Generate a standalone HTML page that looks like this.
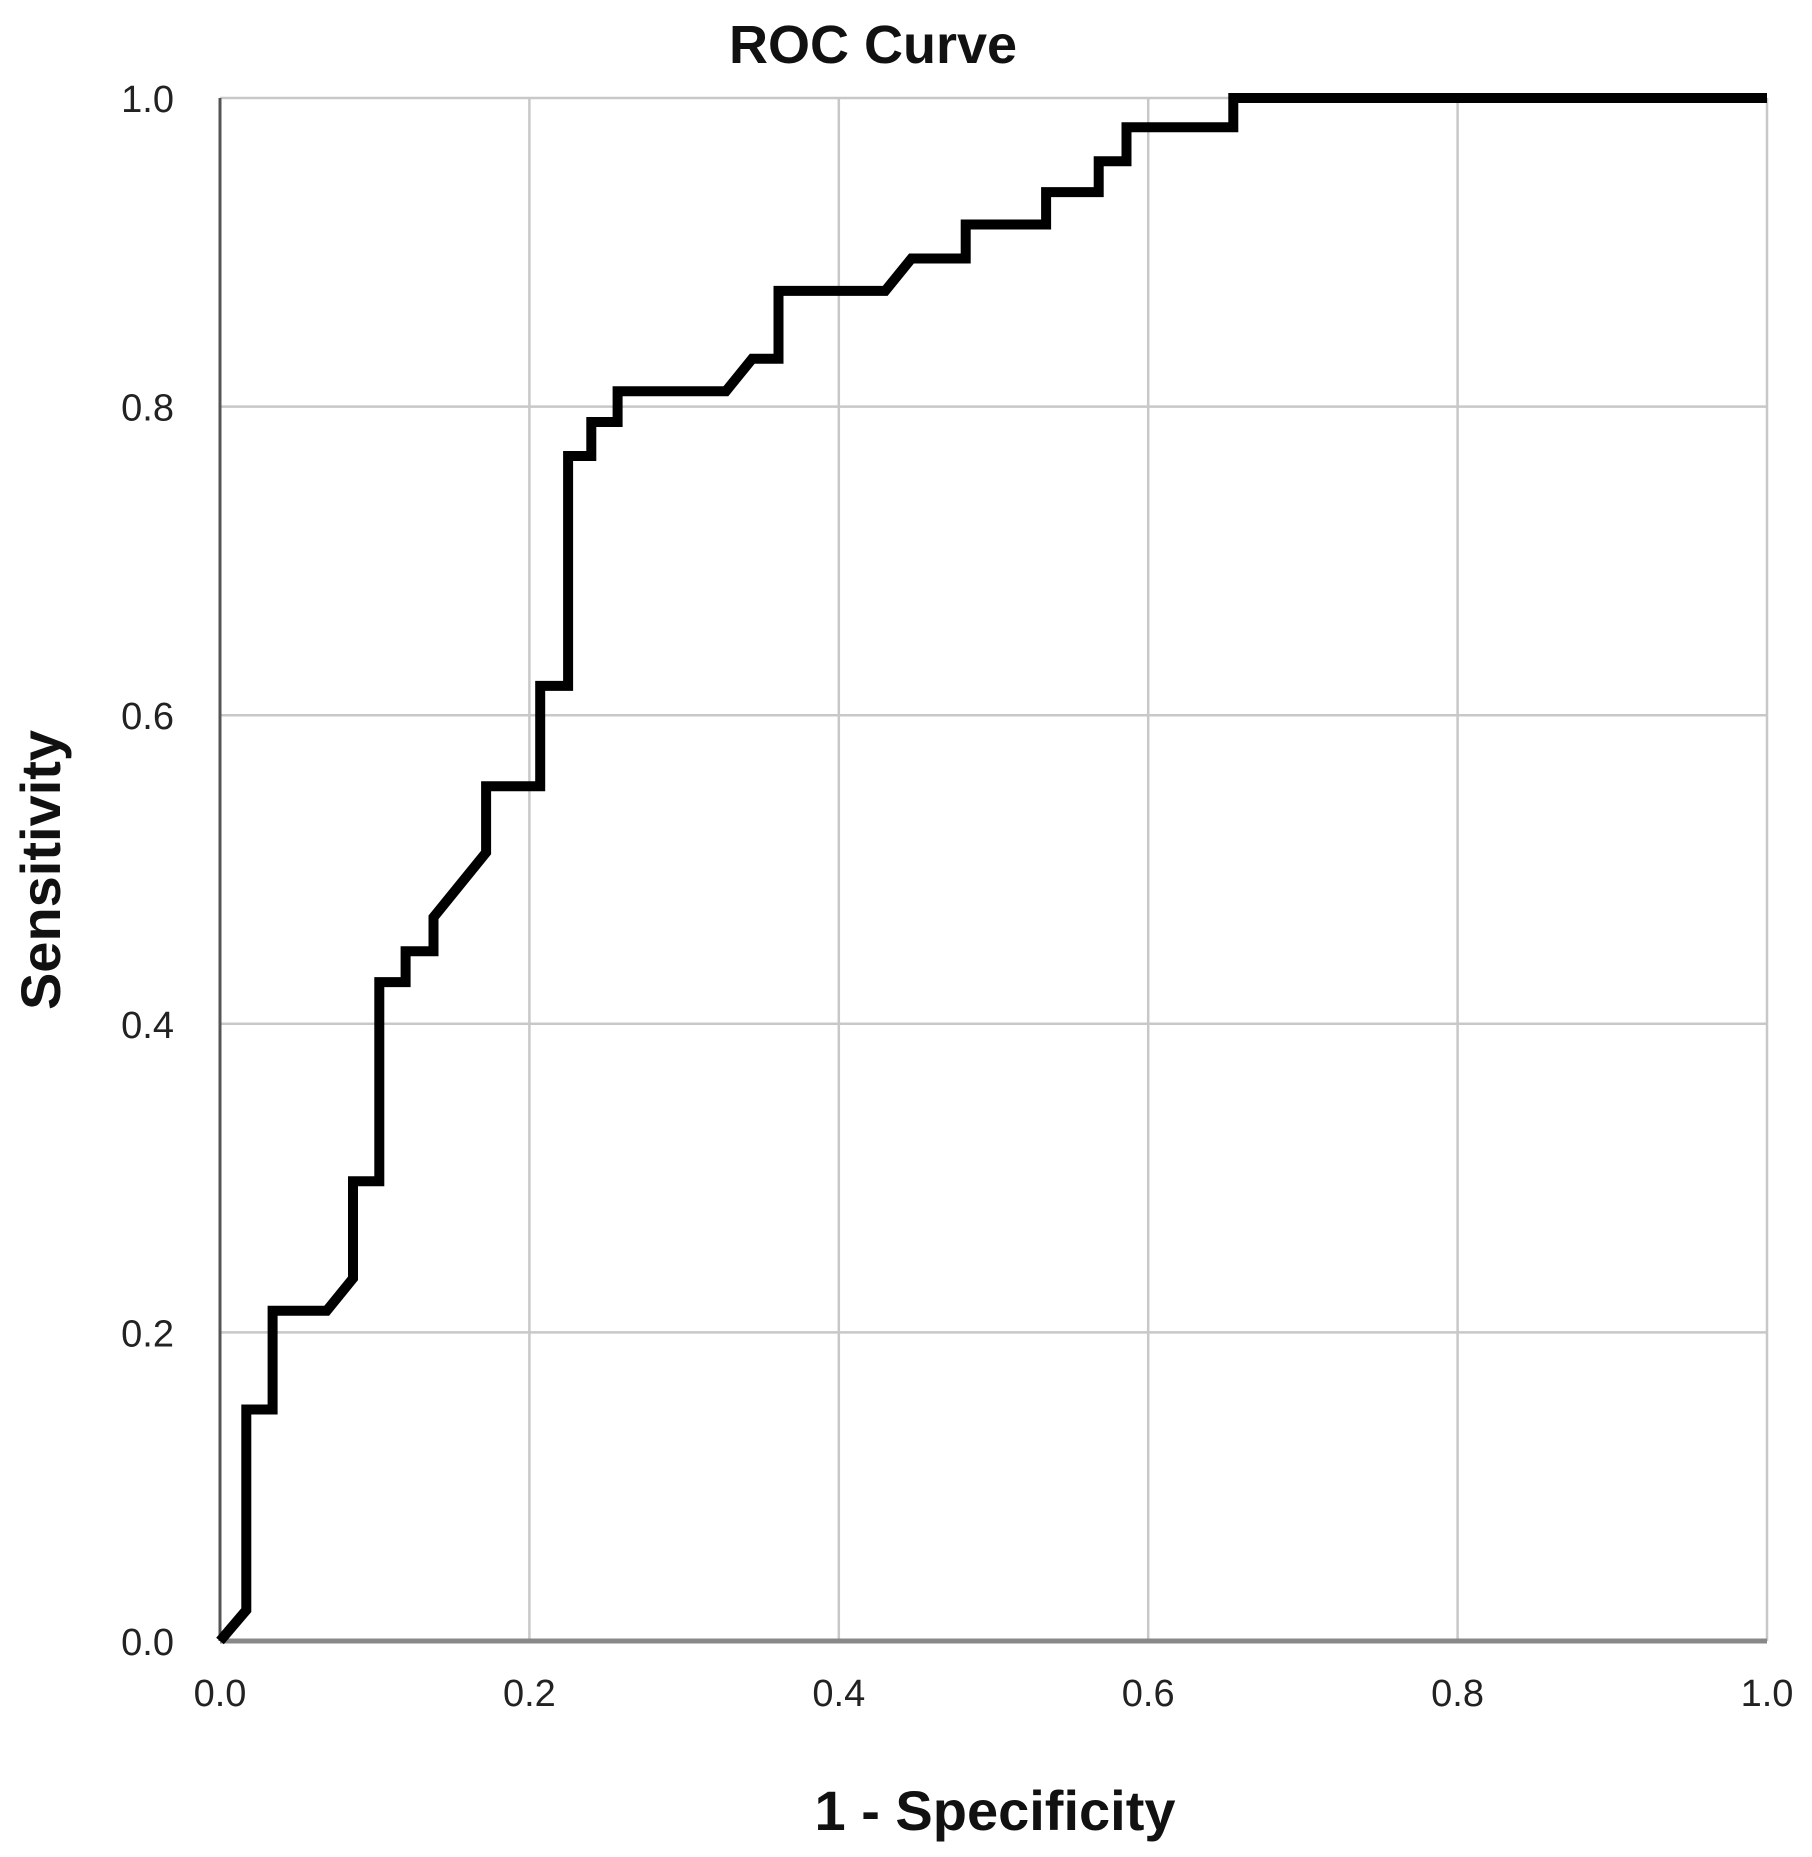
<!DOCTYPE html>
<html><head><meta charset="utf-8"><style>
html,body{margin:0;padding:0;background:#fff;}
svg{display:block;}
</style></head><body>
<svg id="chart" width="1812" height="1857" viewBox="0 0 1812 1857" xmlns="http://www.w3.org/2000/svg" font-family="Liberation Sans, Arial, sans-serif">
<rect x="0" y="0" width="1812" height="1857" fill="#fff"/>
<text x="873" y="63" font-size="54" font-weight="600" text-anchor="middle" fill="#111">ROC Curve</text>
<g id="grid"></g>
<g id="axes"></g>
<g id="ticks"></g>
<path id="curve" fill="none" stroke="#000" stroke-width="10" stroke-linejoin="miter" stroke-miterlimit="4"/>
<text x="995" y="1830" font-size="56" font-weight="bold" text-anchor="middle" fill="#111">1 - Specificity</text>
<text transform="translate(60,870) rotate(-90)" font-size="56" font-weight="bold" text-anchor="middle" fill="#111">Sensitivity</text>
</svg>
<script>
const xTicks = [0, 0.2, 0.4, 0.6, 0.8, 1.0];
const yTicks = [0, 0.2, 0.4, 0.6, 0.8, 1.0];
const tickLabels = ["0.0", "0.2", "0.4", "0.6", "0.8", "1.0"];
const fprValues = [0,0.017,0.017,0.034,0.034,0.069,0.086,0.086,0.103,0.103,0.12,0.12,0.138,0.138,0.172,0.172,0.207,0.207,0.225,0.225,0.240,0.240,0.257,0.257,0.327,0.344,0.361,0.361,0.430,0.447,0.482,0.482,0.534,0.534,0.568,0.568,0.586,0.586,0.655,0.655,1.0];
const tprValues = [0,0.02,0.15,0.15,0.214,0.214,0.235,0.298,0.298,0.427,0.427,0.447,0.447,0.469,0.511,0.554,0.554,0.619,0.619,0.768,0.768,0.790,0.790,0.810,0.810,0.831,0.831,0.875,0.875,0.896,0.896,0.918,0.918,0.939,0.939,0.959,0.959,0.981,0.981,1.0,1.0];

const L=220,R=1767,T=98,B=1641;
const sx=v=>L+v*(R-L);
const sy=v=>B-v*(B-T);
const NS="http://www.w3.org/2000/svg";
const grid=document.getElementById('grid'), axes=document.getElementById('axes'), ticks=document.getElementById('ticks');
function mk(tag,attrs,parent){const e=document.createElementNS(NS,tag);for(const k in attrs)e.setAttribute(k,attrs[k]);parent.appendChild(e);return e;}
xTicks.forEach((v,i)=>{
  if(v>0){const g=mk('line',{x1:sx(v),x2:sx(v),y1:T,y2:B,stroke:'#c8c8c8','stroke-width':2.5},grid);
  
  }
  const t=mk('text',{x:sx(v),y:1706,'font-size':38,'text-anchor':'middle',fill:'#222'},ticks);
  t.textContent=tickLabels[i];
  
  
});
yTicks.forEach((v,i)=>{
  if(v>0){const g=mk('line',{x1:L,x2:R,y1:sy(v),y2:sy(v),stroke:'#c8c8c8','stroke-width':2.5},grid);
  
  }
  const t=mk('text',{x:174,y:sy(v)+14,'font-size':38,'text-anchor':'end',fill:'#222'},ticks);
  t.textContent=tickLabels[i];
  
  
});
const ya=mk('line',{x1:L,x2:L,y1:T,y2:B,stroke:'#555','stroke-width':3},axes);


const xa=mk('line',{x1:L,x2:R,y1:B,y2:B,stroke:'#888','stroke-width':5},axes);


let d='';
fprValues.forEach((x,i)=>{d+=(i?'L':'M')+sx(x).toFixed(1)+','+sy(tprValues[i]).toFixed(1);});
document.getElementById('curve').setAttribute('d',d);
</script>
</body></html>
